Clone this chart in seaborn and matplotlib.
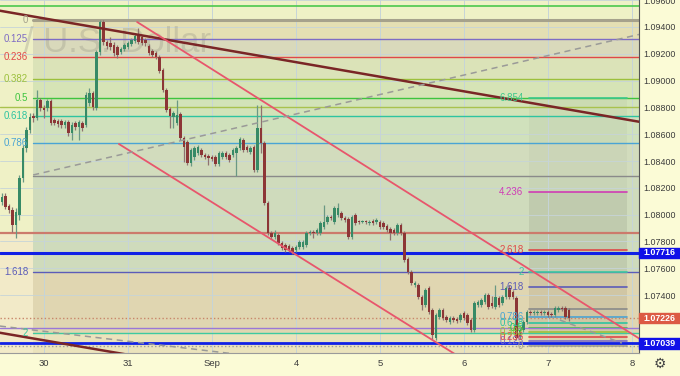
import numpy as np
import matplotlib
matplotlib.use("Agg")
import matplotlib.pyplot as plt
import seaborn as sns
from matplotlib.patches import Rectangle
from matplotlib.transforms import blended_transform_factory

# EURUSD hourly candles, bar 0 = Aug 29 12:00
opens = [
    1.08094, 1.08139, 1.08064, 1.08034, 1.07922, 1.07997, 1.08273, 1.08497, 1.08631, 1.08736,
    1.08721, 1.08855, 1.08795, 1.08795, 1.08848, 1.08706, 1.08698, 1.08698, 1.08668, 1.08691,
    1.08609, 1.08683, 1.08654, 1.08683, 1.08668, 1.08833, 1.08907, 1.08795, 1.09213, 1.09437,
    1.09288, 1.09280, 1.09265, 1.09250, 1.09213, 1.09235, 1.09250, 1.09273, 1.09295, 1.09340,
    1.09325, 1.09303, 1.09258, 1.09221, 1.09206, 1.09176, 1.09079, 1.08930, 1.08788, 1.08728,
    1.08683, 1.08751, 1.08572, 1.08542, 1.08385, 1.08430, 1.08460, 1.08482, 1.08445, 1.08437,
    1.08430, 1.08430, 1.08378, 1.08430, 1.08460, 1.08445, 1.08445, 1.08460, 1.08497, 1.08557,
    1.08504, 1.08467, 1.08504, 1.08333, 1.08646, 1.08534, 1.08087, 1.07863, 1.07833, 1.07848,
    1.07788, 1.07773, 1.07766, 1.07751, 1.07736, 1.07758, 1.07758, 1.07773, 1.07863, 1.07870,
    1.07863, 1.07863, 1.07908, 1.07945, 1.07982, 1.07945, 1.07997, 1.08012, 1.07975, 1.07967,
    1.07833, 1.07997, 1.07952, 1.07945, 1.07952, 1.07937, 1.07952, 1.07945, 1.07945, 1.07937,
    1.07915, 1.07893, 1.07885, 1.07863, 1.07922, 1.07863, 1.07669, 1.07572, 1.07475, 1.07475,
    1.07385, 1.07326, 1.07453, 1.07288, 1.07080, 1.07236, 1.07288, 1.07236, 1.07199, 1.07229,
    1.07221, 1.07214, 1.07266, 1.07251, 1.07214, 1.07139, 1.07326, 1.07326, 1.07348, 1.07400,
    1.07341, 1.07311, 1.07378, 1.07341, 1.07385, 1.07453, 1.07423, 1.07378, 1.07087, 1.07139,
    1.07199, 1.07273, 1.07266, 1.07266, 1.07273, 1.07266, 1.07273, 1.07259, 1.07251, 1.07288,
    1.07303, 1.07303, 1.07288]
highs = [
    1.08161, 1.08161, 1.08079, 1.08057, 1.08049, 1.08295, 1.08519, 1.08654, 1.08758, 1.08758,
    1.08930, 1.08870, 1.08818, 1.08862, 1.08862, 1.08721, 1.08713, 1.08713, 1.08706, 1.08706,
    1.08691, 1.08698, 1.08706, 1.08698, 1.08915, 1.08945, 1.08922, 1.09228, 1.09452, 1.09452,
    1.09303, 1.09325, 1.09288, 1.09265, 1.09250, 1.09280, 1.09295, 1.09318, 1.09347, 1.09392,
    1.09340, 1.09318, 1.09273, 1.09235, 1.09221, 1.09191, 1.09094, 1.08945, 1.08803, 1.08773,
    1.08855, 1.08765, 1.08586, 1.08557, 1.08497, 1.08512, 1.08519, 1.08497, 1.08460, 1.08452,
    1.08445, 1.08445, 1.08475, 1.08475, 1.08475, 1.08460, 1.08497, 1.08512, 1.08579, 1.08572,
    1.08519, 1.08512, 1.08519, 1.08818, 1.08818, 1.08549, 1.08102, 1.07878, 1.07885, 1.07863,
    1.07803, 1.07788, 1.07781, 1.07766, 1.07773, 1.07811, 1.07811, 1.07878, 1.07885, 1.07885,
    1.07900, 1.07952, 1.08072, 1.07997, 1.07997, 1.08064, 1.08087, 1.08027, 1.07990, 1.07982,
    1.07997, 1.08012, 1.07960, 1.07960, 1.07960, 1.07960, 1.07967, 1.07975, 1.07960, 1.07952,
    1.07930, 1.07908, 1.07900, 1.07937, 1.07937, 1.07878, 1.07684, 1.07587, 1.07505, 1.07490,
    1.07400, 1.07453, 1.07467, 1.07303, 1.07266, 1.07303, 1.07303, 1.07251, 1.07244, 1.07244,
    1.07236, 1.07266, 1.07281, 1.07266, 1.07229, 1.07356, 1.07363, 1.07378, 1.07415, 1.07415,
    1.07393, 1.07475, 1.07393, 1.07400, 1.07467, 1.07475, 1.07438, 1.07393, 1.07154, 1.07214,
    1.07288, 1.07288, 1.07288, 1.07288, 1.07288, 1.07288, 1.07288, 1.07273, 1.07318, 1.07318,
    1.07318, 1.07318, 1.07303]
lows = [
    1.08072, 1.08042, 1.08012, 1.07870, 1.07826, 1.07960, 1.08243, 1.08467, 1.08609, 1.08691,
    1.08706, 1.08773, 1.08721, 1.08773, 1.08668, 1.08668, 1.08654, 1.08646, 1.08646, 1.08586,
    1.08557, 1.08631, 1.08557, 1.08624, 1.08654, 1.08810, 1.08780, 1.08780, 1.09191, 1.09265,
    1.09235, 1.09228, 1.09183, 1.09168, 1.09198, 1.09221, 1.09235, 1.09258, 1.09280, 1.09273,
    1.09265, 1.09258, 1.09191, 1.09176, 1.09161, 1.09056, 1.08915, 1.08765, 1.08646, 1.08646,
    1.08668, 1.08557, 1.08392, 1.08370, 1.08363, 1.08407, 1.08445, 1.08430, 1.08415, 1.08370,
    1.08400, 1.08363, 1.08363, 1.08415, 1.08415, 1.08392, 1.08430, 1.08288, 1.08482, 1.08467,
    1.08467, 1.08452, 1.08318, 1.08318, 1.08460, 1.08072, 1.07848, 1.07818, 1.07818, 1.07773,
    1.07736, 1.07721, 1.07721, 1.07706, 1.07721, 1.07743, 1.07743, 1.07758, 1.07848, 1.07826,
    1.07848, 1.07848, 1.07893, 1.07930, 1.07960, 1.07930, 1.07982, 1.07960, 1.07945, 1.07818,
    1.07818, 1.07922, 1.07930, 1.07937, 1.07930, 1.07922, 1.07922, 1.07930, 1.07893, 1.07893,
    1.07870, 1.07811, 1.07848, 1.07848, 1.07848, 1.07646, 1.07557, 1.07475, 1.07460, 1.07370,
    1.07288, 1.07311, 1.07259, 1.07065, 1.07065, 1.07221, 1.07214, 1.07199, 1.07184, 1.07199,
    1.07191, 1.07199, 1.07214, 1.07176, 1.07124, 1.07124, 1.07311, 1.07311, 1.07333, 1.07296,
    1.07303, 1.07296, 1.07311, 1.07326, 1.07370, 1.07370, 1.07370, 1.07065, 1.07072, 1.07124,
    1.07184, 1.07251, 1.07251, 1.07251, 1.07251, 1.07251, 1.07236, 1.07236, 1.07236, 1.07273,
    1.07281, 1.07221, 1.07206]
closes = [
    1.08131, 1.08057, 1.08034, 1.07922, 1.08019, 1.08273, 1.08497, 1.08631, 1.08728, 1.08721,
    1.08855, 1.08795, 1.08780, 1.08848, 1.08683, 1.08683, 1.08676, 1.08668, 1.08691, 1.08609,
    1.08668, 1.08654, 1.08691, 1.08646, 1.08892, 1.08907, 1.08803, 1.09213, 1.09437, 1.09288,
    1.09258, 1.09250, 1.09206, 1.09191, 1.09235, 1.09265, 1.09280, 1.09303, 1.09332, 1.09288,
    1.09280, 1.09280, 1.09206, 1.09191, 1.09176, 1.09071, 1.08930, 1.08780, 1.08736, 1.08758,
    1.08743, 1.08572, 1.08504, 1.08385, 1.08482, 1.08497, 1.08504, 1.08445, 1.08430, 1.08422,
    1.08415, 1.08378, 1.08460, 1.08460, 1.08430, 1.08407, 1.08482, 1.08497, 1.08564, 1.08482,
    1.08482, 1.08497, 1.08333, 1.08646, 1.08534, 1.08087, 1.07863, 1.07833, 1.07863, 1.07788,
    1.07751, 1.07736, 1.07736, 1.07721, 1.07758, 1.07796, 1.07796, 1.07863, 1.07870, 1.07863,
    1.07885, 1.07937, 1.07945, 1.07982, 1.07975, 1.08049, 1.08049, 1.07975, 1.07960, 1.07833,
    1.07982, 1.07937, 1.07945, 1.07952, 1.07945, 1.07945, 1.07937, 1.07960, 1.07908, 1.07908,
    1.07885, 1.07863, 1.07863, 1.07922, 1.07863, 1.07661, 1.07572, 1.07490, 1.07490, 1.07385,
    1.07326, 1.07438, 1.07273, 1.07102, 1.07251, 1.07288, 1.07229, 1.07214, 1.07229, 1.07214,
    1.07206, 1.07251, 1.07229, 1.07191, 1.07139, 1.07341, 1.07348, 1.07363, 1.07400, 1.07311,
    1.07318, 1.07385, 1.07326, 1.07385, 1.07453, 1.07385, 1.07385, 1.07080, 1.07139, 1.07199,
    1.07273, 1.07266, 1.07273, 1.07273, 1.07266, 1.07273, 1.07251, 1.07251, 1.07303, 1.07303,
    1.07296, 1.07236, 1.07226]
assert len(opens) == len(highs) == len(lows) == len(closes)

day_ticks = [12, 36, 60, 84, 108, 132, 156, 180]
day_labels = ["30", "31", "Sep", "4", "5", "6", "7", "8"]
price_ticks = [1.074, 1.076, 1.078, 1.080, 1.082, 1.084, 1.086, 1.088, 1.090, 1.092, 1.094, 1.096]

# fibonacci retracement (left), anchored at bar 8.9, extended right
fib_left_labels = ["0", "0.125", "0.236", "0.382", "0.5", "0.618", "0.786", "1", "1.618", "2"]
fib_left_prices = [1.09452, 1.09308, 1.09178, 1.09010, 1.08868, 1.08734, 1.08537, 1.08288, 1.07569, 1.07119]
fib_left_start = 8.9

# fibonacci extension (right box)
fib_right_labels = ["0", "0.125", "0.236", "0.382", "0.5", "0.618", "0.786", "1",
                    "1.618", "2", "2.618", "4.236", "6.854"]
fib_right_prices = [1.07022, 1.07059, 1.07089, 1.07126, 1.07154, 1.07194, 1.07238, 1.07296,
                    1.07462, 1.07572, 1.07736, 1.08169, 1.08870]
fib_right_span = [150.6, 178.6]

# full width horizontal levels
level_prices = [1.09554, 1.08801, 1.07865, 1.07716, 1.07226, 1.07157, 1.07039, 1.07020]

# trend lines: (bars, prices)
maroon_top = ([-0.6, 182.0], [1.09521, 1.08693])
maroon_low = ([-0.6, 40.0], [1.07119, 1.06937])
pink_a = ([38.6, 182.0], [1.09437, 1.07077])
pink_b = ([33.4, 133.7], [1.08527, 1.06890])
dash_up = ([8.9, 182.0], [1.08296, 1.09344])
dash_low = ([-0.6, 70.0], [1.07169, 1.06950])
dash_right = ([159.4, 177.1], [1.07214, 1.07042])

badge_prices = [1.07716, 1.07226, 1.07039]

# ---- styles
lvl_colors = ["#4cc84c", "#a9c24e", "#cc7a6c", "#1020e6", "#c8866a", "#9a78d8", "#1020e6", "#9a9a9a"]
lvl_widths = [1.2, 1.0, 1.6, 2.2, 1.0, 1.0, 2.0, 1.0]
lvl_styles = ["-", "-", "-", "-", ":", "-", "-", ":"]
fib_col = {"0": "#a6a28c", "0.125": "#7e6cc4", "0.236": "#e04848", "0.382": "#9cc03c",
           "0.5": "#3ec43e", "0.618": "#2ec4a0", "0.786": "#4aa4d4", "1": "#8a8a8a",
           "1.618": "#5c5cb8", "2": "#3ecaa0", "2.618": "#e04848", "4.236": "#d03cb4",
           "6.854": "#3cc88c"}
band_colors = ["#e4dfb3", "#d9d9bb", "#dbe3b8", "#d6e4b6", "#d2e3b8", "#d0e1bc",
               "#d2dcbd", "#cfdbbc", "#e0d6b1"]

sns.set_theme(style="white")
plt.rcParams["font.family"] = ["Liberation Sans", "DejaVu Sans"]

fig = plt.figure(figsize=(6.8, 3.76), dpi=100)
fig.patch.set_facecolor("#fbfbd6")
ax = fig.add_axes([0, 23 / 376, 639 / 680, 353 / 376])
ax.set_facecolor("#eff1c6")
xmin, xmax = -0.57, 182.0
ymin, ymax = 1.06968, 1.09601
ax.set_xlim(xmin, xmax)
ax.set_ylim(ymin, ymax)

# background zones
ax.axhspan(ymin, 1.07865, color="#f2eac8", lw=0, zorder=0.2)
for k in range(len(fib_left_prices) - 1):
    ax.fill_between([fib_left_start, xmax], fib_left_prices[k + 1], fib_left_prices[k],
                    color=band_colors[k], lw=0, zorder=0.3)
ax.fill_between([fib_left_start, xmax], ymin, fib_left_prices[-1], color="#ebe3bc", lw=0, zorder=0.3)
ax.fill_between(fib_right_span, fib_right_prices[0], fib_right_prices[11], color="black",
                alpha=0.07, lw=0, zorder=0.4)
ax.fill_between(fib_right_span, fib_right_prices[11], fib_right_prices[12], color="black",
                alpha=0.03, lw=0, zorder=0.4)

# grid
for t in day_ticks:
    ax.axvline(t, color="#c6d4d8", lw=0.7, zorder=0.6)
for p in price_ticks:
    ax.axhline(p, color="#c6d4d8", lw=0.6, zorder=0.6)

ax.text(24 / 639, 1 - 42 / 353, "/ U.S. Dollar", transform=ax.transAxes, fontsize=25,
        color="#9a9a8a", alpha=0.35, va="center", ha="left", zorder=0.8)

# fib levels
for lab, p in zip(fib_left_labels, fib_left_prices):
    lw = 2.2 if lab == "0" else 1.0
    ax.plot([fib_left_start, xmax], [p, p], color=fib_col[lab], lw=lw, zorder=1.2)
    if lab != "1":
        ax.text(fib_left_start - 1.4, p, lab, color=fib_col[lab], fontsize=7,
                ha="right", va="center", zorder=5)
for lab, p in zip(fib_right_labels, fib_right_prices):
    ax.plot(fib_right_span, [p, p], color=fib_col[lab], lw=1.2, zorder=1.3)
    if lab != "1":
        ax.text(fib_right_span[0] - 1.6, p, lab, color=fib_col[lab], fontsize=7,
                ha="right", va="center", zorder=5)

for p, c, w, s in zip(level_prices, lvl_colors, lvl_widths, lvl_styles):
    ax.axhline(p, color=c, lw=w, ls=s, zorder=1.5)

# candles
x = np.arange(len(opens))
o = np.array(opens)
c = np.array(closes)
up = c >= o
ax.vlines(x, lows, highs, colors=np.where(up, "#6a9884", "#8f7270"), lw=0.9, zorder=3)
ax.bar(x, np.maximum(np.abs(c - o), 0.00002), bottom=np.minimum(o, c), width=0.78,
       color=np.where(up, "#378a66", "#8c3636"), lw=0, zorder=3.2)

# drawings
ax.plot(*maroon_top, color="#7a2626", lw=1.8, zorder=4)
ax.plot(*maroon_low, color="#7a2626", lw=1.8, zorder=4)
ax.plot(*pink_a, color="#e8566c", lw=1.3, zorder=4)
ax.plot(*pink_b, color="#e8566c", lw=1.3, zorder=4)
for d in (dash_up, dash_low, dash_right):
    ax.plot(*d, color="#9a9a98", lw=1.1, ls=(0, (4, 3)), zorder=4)

# axes decoration
for side in ("top", "left"):
    ax.spines[side].set_visible(False)
ax.spines["right"].set_color("#555555")
ax.spines["right"].set_linewidth(0.8)
ax.spines["bottom"].set_color("#9a9a9a")
ax.spines["bottom"].set_linewidth(0.8)
ax.yaxis.tick_right()
ax.set_yticks(price_ticks, [f"{p:.5f}" for p in price_ticks])
ax.set_xticks(day_ticks, day_labels)
ax.tick_params(axis="y", length=0, pad=3, labelsize=6.4, labelcolor="#3c3c3c")
ax.tick_params(axis="x", length=0, pad=4, labelsize=6.8, labelcolor="#3c3c3c")

trans = blended_transform_factory(ax.transAxes, ax.transData)
h = 0.00075
for p, col in zip(badge_prices, ["#1010e8", "#dc5a44", "#1010e8"]):
    ax.add_patch(Rectangle((1.0, p - h / 2), 41 / 639, h, transform=trans, color=col,
                           clip_on=False, zorder=10))
    ax.text(1.0 + 20.5 / 639, p, f"{p:.5f}", transform=trans, color="white", fontsize=6.4,
            fontweight="bold", ha="center", va="center", clip_on=False, zorder=11)

fig.text(660 / 680, 1 - 364 / 376, "\u2699", ha="center", va="center", fontsize=10,
         color="#444444", family="DejaVu Sans")

fig.savefig("out.png", dpi=100, facecolor=fig.get_facecolor())
